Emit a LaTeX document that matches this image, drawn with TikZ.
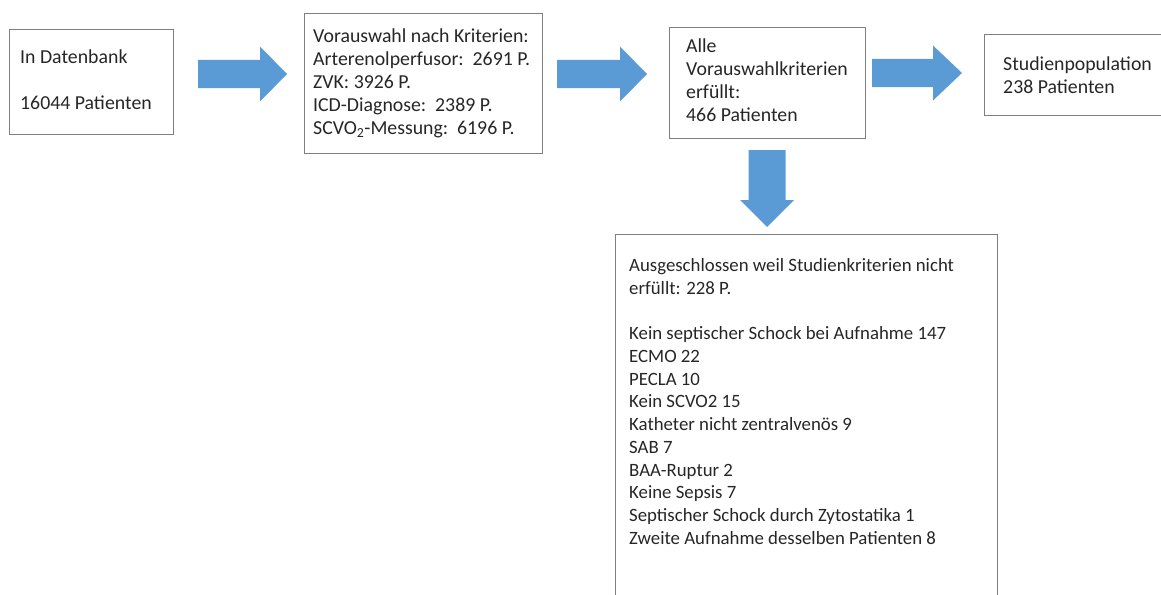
\documentclass[tikz,border=0pt]{standalone}
\usepackage{fontspec}
\setmainfont{Carlito}
\definecolor{arrowblue}{HTML}{5B9BD5}
\definecolor{boxline}{HTML}{7F7F7F}
\definecolor{txtcol}{HTML}{262626}
\begin{document}
\begin{tikzpicture}[x=1pt,y=-1pt,
  box/.style={draw=boxline, line width=1pt, inner sep=0pt, anchor=north west},
  txt/.style={text=txtcol, inner sep=0pt, align=left, anchor=north west,
    font=\fontsize{19.8}{23}\selectfont},
  smalltxt/.style={txt, font=\fontsize{18.8}{22.7}\selectfont},
  blockarrow/.style={fill=arrowblue, draw=none}]
\useasboundingbox (0,0) rectangle (1161,594);
\clip (0,0) rectangle (1161,594);

% boxes
\node[box, minimum width=164pt, minimum height=105pt] (b1) at (9,29) {};
\node[box, minimum width=238pt, minimum height=140pt] (b2) at (304,13) {};
\node[box, minimum width=196pt, minimum height=111pt] (b3) at (669,27) {};
\node[box, minimum width=200pt, minimum height=81pt]  (b4) at (984,34) {};
\node[box, minimum width=382pt, minimum height=400pt] (b5) at (615,234) {};

% texts
\node[txt] (t1) at ([xshift=11pt,yshift=-20.5pt]b1.north west)
  {In Datenbank\\[23pt]16044 Patienten};
\node[txt] (t2) at ([xshift=9pt,yshift=-15.5pt]b2.north west)
  {Vorauswahl nach Kriterien:\\
   Arterenolperfusor:\ \ 2691 P.\\
   ZVK: 3926 P.\\
   ICD-Diagnose:\ \ 2389 P.\\
   SCVO\textsubscript{2}-Messung:\ \ 6196 P.};
\node[txt] (t3) at ([xshift=17pt,yshift=-11.5pt]b3.north west)
  {Alle\\Vorauswahlkriterien\\erfüllt:\\466 Patienten};
\node[txt] (t4) at ([xshift=19pt,yshift=-22.5pt]b4.north west)
  {Studienpopulation\\238 Patienten};
\node[smalltxt] (t5) at ([xshift=14pt,yshift=-24.5pt]b5.north west)
  {Ausgeschlossen weil Studienkriterien nicht\\
   erfüllt: 228 P.\\[22.7pt]
   Kein septischer Schock bei Aufnahme 147\\
   ECMO 22\\
   PECLA 10\\
   Kein SCVO2 15\\
   Katheter nicht zentralvenös 9\\
   SAB 7\\
   BAA-Ruptur 2\\
   Keine Sepsis 7\\
   Septischer Schock durch Zytostatika 1\\
   Zweite Aufnahme desselben Patienten 8};

% block arrows
\coordinate (a1) at (198,74);
\coordinate (a2) at (557,74);
\coordinate (a3) at (872,73);
\coordinate (a4) at (767,150);
\fill[blockarrow] (a1) ++(0,-14) -- ++(62,0) -- ++(0,-13.5) -- ++(27,27.5)
  -- ++(-27,27.5) -- ++(0,-13.5) -- ++(-62,0) -- cycle;
\fill[blockarrow] (a2) ++(0,-14) -- ++(63,0) -- ++(0,-13.5) -- ++(27,27.5)
  -- ++(-27,27.5) -- ++(0,-13.5) -- ++(-63,0) -- cycle;
\fill[blockarrow] (a3) ++(0,-14) -- ++(61,0) -- ++(0,-13.5) -- ++(29,27.5)
  -- ++(-29,27.5) -- ++(0,-13.5) -- ++(-61,0) -- cycle;
\fill[blockarrow] (a4) ++(-18.5,0) -- ++(0,50) -- ++(-8.5,0) -- ++(27,27)
  -- ++(27,-27) -- ++(-8.5,0) -- ++(0,-50) -- cycle;
\end{tikzpicture}
\end{document}
